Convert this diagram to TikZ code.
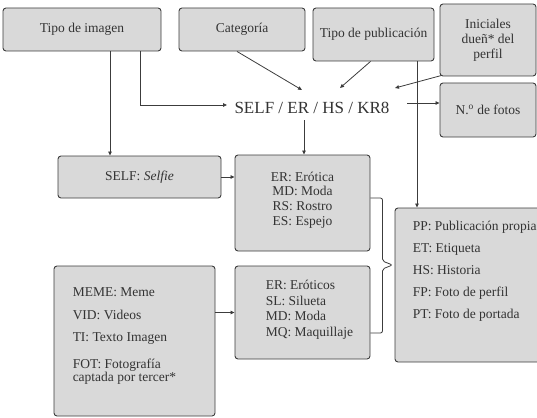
\documentclass[tikz,border=0pt]{standalone}
\usepackage{fontspec}
\setmainfont{Liberation Serif}
\usetikzlibrary{arrows.meta}
\definecolor{boxfill}{HTML}{D9D9D9}
\definecolor{edge}{HTML}{3C3C3C}
\definecolor{ink}{HTML}{333333}
\begin{document}
\begin{tikzpicture}[x=1pt,y=-1pt,
  box/.style={draw=edge, fill=boxfill, rounded corners=3pt, line width=0.9pt, inner sep=2pt, text=ink, align=center, font=\fontsize{13.5}{15}\selectfont},
  txt/.style={text=ink, inner sep=0pt, font=\fontsize{13.5}{15}\selectfont},
  arr/.style={draw=edge, line width=0.8pt, -{Triangle[length=4pt,width=3.5pt]}},
  ln/.style={draw=edge, line width=0.8pt}]
\useasboundingbox (0,0) rectangle (537,417);

% top row
\node[box, minimum width=158pt, minimum height=43pt] (timg) at (82,29.5) {Tipo de imagen};
\node[box, minimum width=126pt, minimum height=43pt] (cat) at (242,29.5) {Categoría};
\node[box, minimum width=121pt, minimum height=53pt] (tpub) at (373.5,34.5) {Tipo de publicación};
\node[box, minimum width=96pt, minimum height=72pt] (inic) at (488,40) {Iniciales\\dueñ* del\\perfil};
\node[box, minimum width=96pt, minimum height=54pt] (nfot) at (488,110) {N.\textsuperscript{o} de fotos};

% central code
\node[txt, font=\fontsize{17}{20}\selectfont] (code) at (312,108) {SELF / ER / HS / KR8};

% middle / bottom boxes
\node[box, minimum width=163pt, minimum height=42pt] (self) at (139.5,177) {SELF: \textit{Selfie}};
\node[box, minimum width=135pt, minimum height=96pt] (er) at (302.5,203) {};
\node[txt, align=center, font=\fontsize{13.5}{14.7}\selectfont] (ertxt) at ([yshift=3pt]er.center) {ER: Erótica\\MD: Moda\\RS: Rostro\\ES: Espejo};

\node[box, minimum width=135pt, minimum height=93pt] (ero) at (302.5,312.5) {};
\node[txt, anchor=west, align=left, font=\fontsize{13.5}{15.5}\selectfont] (erotxt) at ([shift={(31pt,3pt)}]ero.west) {ER: Eróticos\\SL: Silueta\\MD: Moda\\MQ: Maquillaje};

\node[box, minimum width=161pt, minimum height=150pt] (meme) at (134.5,341) {};
\node[txt, anchor=west, align=left, font=\fontsize{13.5}{12}\selectfont] (memetxt) at ([shift={(19pt,5pt)}]meme.west) {MEME: Meme\\[11pt]VID: Videos\\[10pt]TI: Texto Imagen\\[14pt]FOT: Fotografía\\captada por tercer*};

\node[box, minimum width=155pt, minimum height=154pt] (pp) at (472.5,285) {};
\node[txt, anchor=west, align=left, font=\fontsize{13.5}{15}\selectfont] (pptxt) at ([shift={(18pt,14pt)}]pp.west) {PP: Publicación propia\\[7pt]ET: Etiqueta\\[7pt]HS: Historia\\[7pt]FP: Foto de perfil\\[7pt]PT: Foto de portada};

% connector end points
\coordinate (tA) at ([xshift=58pt]timg.south);
\coordinate (tB) at ([xshift=28pt]timg.south);
\coordinate (cIn) at ([shift={(-85pt,3pt)}]code.center);
\coordinate (pV) at ([xshift=43.5pt]tpub.south);
\coordinate (nS) at ([shift={(95pt,5pt)}]code.center);
\coordinate (cS) at ([shift={(-8pt,-12pt)}]code.center);

% connectors
\draw[arr] (tA) |- (cIn);
\draw[arr] (tB) -- (tB |- self.north);
\draw[arr] ([xshift=-5pt]cat.south) -- ([shift={(-10pt,18pt)}]code.center);
\draw[arr] ([xshift=-3pt]tpub.south) -- ([shift={(28pt,20pt)}]code.center);
\draw[arr] ([shift={(2pt,1pt)}]inic.south west) -- ([shift={(83pt,20pt)}]code.center);
\draw[arr] (nS) -- (nS -| nfot.west);
\draw[arr] (pV) -- (pV |- pp.north);
\draw[arr] (cS) -- (cS |- er.north);
\draw[arr] (self.east) -- (self.east -| er.west);
\draw[arr] (meme.east |- ero.west) -- (ero.west);

% brace
\draw[ln, rounded corners=2pt] ([yshift=5pt]er.east) -- ++(12pt,0) -- ++(0,-63pt) -- ++(10pt,-4pt) -- ++(-10pt,-4pt) -- ++(0,-64pt) -- ++(-12pt,0);
\end{tikzpicture}
\end{document}
